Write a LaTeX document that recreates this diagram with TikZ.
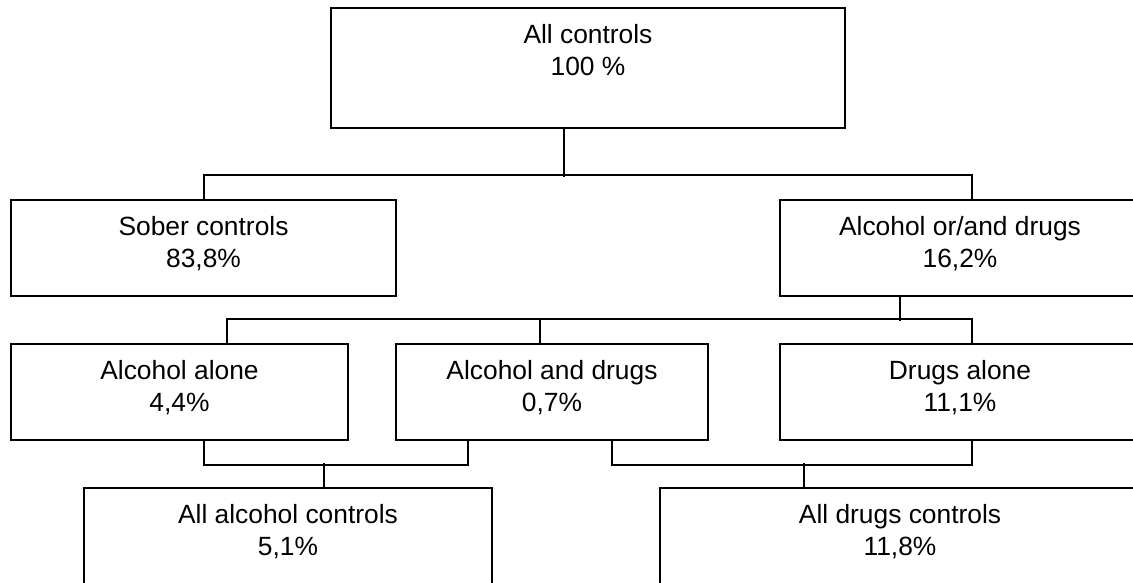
\documentclass[tikz,border=0pt]{standalone}
\usepackage{fontspec}
\setmainfont{Liberation Sans}
\usetikzlibrary{positioning}
\tikzset{
  box/.style={draw, line width=0.4mm, rectangle, anchor=north west, inner sep=0pt, minimum height=19.2mm},
  txt/.style={align=center, anchor=base, inner sep=0pt, yshift=-13.7mm, font=\fontsize{15}{18}\selectfont},
  wire/.style={line width=0.4mm}
}
\begin{document}
\begin{tikzpicture}[x=0.2mm,y=-0.2mm]
            \useasboundingbox (0,0) rectangle (1133,582);
            \clip (0,0) rectangle (1133,582);
            \node[box,minimum width=102.8mm,minimum height=24mm,label={[txt,name=allt]north:All controls\\100 \%}] (all) at (330,7) {};
            \node[box,minimum width=77mm,label={[txt,name=sobert]north:Sober controls\\83,8\%}] (sober) at (10,199) {};
            \node[box,minimum width=72mm,label={[txt,name=aodt]north:Alcohol or/and drugs\\16,2\%}] (aod) at (779,199) {};
            \node[box,minimum width=67.4mm,label={[txt,name=aalonet]north:Alcohol alone\\4,4\%}] (aalone) at (10,343) {};
            \node[box,minimum width=62.4mm,label={[txt,name=aanddt]north:Alcohol and drugs\\0,7\%}] (aandd) at (395,343) {};
            \node[box,minimum width=72mm,label={[txt,name=dalonet]north:Drugs alone\\11,1\%}] (dalone) at (779,343) {};
            \node[box,minimum width=81.6mm,minimum height=19.6mm,label={[txt,name=allalct]north:All alcohol controls\\5,1\%}] (allalc) at (83,487) {};
            \node[box,minimum width=96mm,minimum height=19.6mm,label={[txt,name=alldrgt]north:All drugs controls\\11,8\%}] (alldrg) at (659,487) {};
            \draw[wire]
            ([xshift=-4.8mm]all.south) -- ++(0,48)
            (sober.north) -- ++(0,-24) -| ([xshift=2.4mm]aod.north)
            ([xshift=-12mm]aod.south) -- ++(0,24)
            ([xshift=9.5mm]aalone.north) -- ++(0,-24) -| ([xshift=2.4mm]dalone.north)
            ([xshift=-2.4mm]aandd.north) -- ++(0,-24)
            ([xshift=4.9mm]aalone.south) -- ++(0,24) -| ([xshift=-16.8mm]aandd.south)
            ([xshift=7.2mm]allalc.north) -- ++(0,-24)
            ([xshift=12mm]aandd.south) -- ++(0,24) -| ([xshift=2.4mm]dalone.south)
            ([xshift=-19.2mm]alldrg.north) -- ++(0,-24)
            ;
        \end{tikzpicture}
\end{document}
